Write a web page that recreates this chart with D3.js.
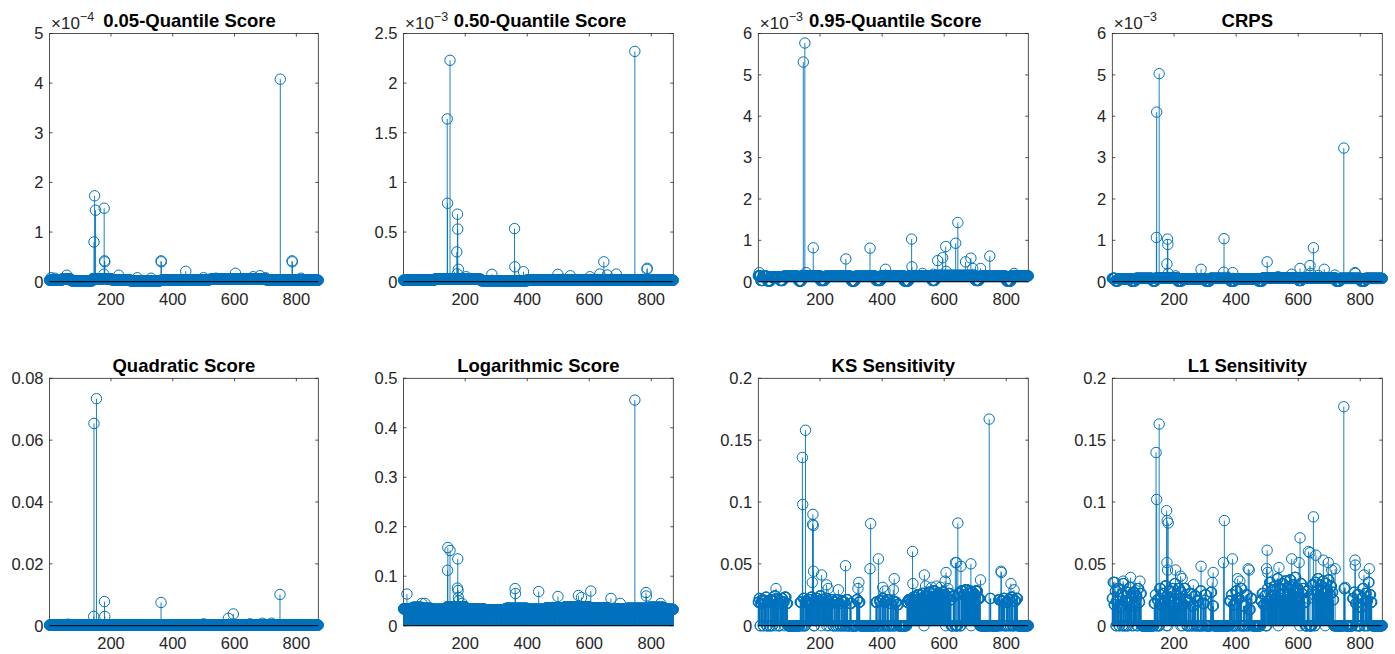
<!DOCTYPE html>
<html><head><meta charset="utf-8">
<script src="https://cdn.jsdelivr.net/npm/d3@7"></script>
<style>
body{margin:0;background:#fff}
svg{display:block}
text{font-family:"Liberation Sans",Arial,Helvetica,sans-serif;fill:#262626}
</style>
</head><body>
<svg id="chart" width="1395" height="654"></svg>
<script>
// ---------------- data ----------------
const N = 871;                       // number of samples (x = 1..N)
const xTickValues = [200, 400, 600, 800];

const titles = ["0.05-Quantile Score","0.50-Quantile Score","0.95-Quantile Score","CRPS",
                "Quadratic Score","Logarithmic Score","KS Sensitivity","L1 Sensitivity"];
const yMaxes = [5e-4, 2.5e-3, 6e-3, 6e-3, 0.08, 0.5, 0.2, 0.2];
const yExponents = [-4, -3, -3, -3, 0, 0, 0, 0];
const yTicks = [
  [0,1e-4,2e-4,3e-4,4e-4,5e-4],
  [0,0.5e-3,1e-3,1.5e-3,2e-3,2.5e-3],
  [0,1e-3,2e-3,3e-3,4e-3,5e-3,6e-3],
  [0,1e-3,2e-3,3e-3,4e-3,5e-3,6e-3],
  [0,0.02,0.04,0.06,0.08],
  [0,0.1,0.2,0.3,0.4,0.5],
  [0,0.05,0.1,0.15,0.2],
  [0,0.05,0.1,0.15,0.2]
];

// run-length segments [fromIndex, toIndex, value] read off the dense base band, and
// individual readings [index, value] of the visible stems
const q05Base = [[1,40,3e-6],[41,70,5e-6],[71,140,2e-6],[141,200,6e-6],[201,260,4e-6],[261,360,2e-6],
  [361,440,3e-6],[441,520,4e-6],[521,600,5e-6],[601,700,6e-6],[701,760,4e-6],[761,871,3e-6]];
const q05Peaks = [[6,0.08e-4],[18,0.07e-4],[57,0.13e-4],[145,0.80e-4],[147,1.73e-4],[150,1.44e-4],[177,0.15e-4],
  [178,1.48e-4],[179,0.42e-4],[180,0.40e-4],[225,0.13e-4],[285,0.08e-4],[330,0.07e-4],[362,0.42e-4],[363,0.40e-4],
  [442,0.21e-4],[500,0.08e-4],[540,0.07e-4],[603,0.17e-4],[660,0.1e-4],[682,0.12e-4],[700,0.08e-4],
  [748,4.08e-4],[786,0.42e-4],[787,0.40e-4],[815,0.07e-4]];

const q50Base = [[1,100,1.5e-5],[101,250,2.5e-5],[251,400,1e-5],[401,600,2e-5],[601,871,1.5e-5]];
const q50Peaks = [[142,1.64e-3],[143,0.79e-3],[151,2.23e-3],[173,0.30e-3],[174,0.08e-3],[175,0.68e-3],[176,0.53e-3],
  [178,0.125e-3],[203,0.05e-3],[286,0.074e-3],[359,0.535e-3],[360,0.15e-3],[388,0.10e-3],[499,0.074e-3],
  [539,0.06e-3],[602,0.05e-3],[634,0.077e-3],[647,0.20e-3],[658,0.067e-3],[687,0.077e-3],[747,2.32e-3],
  [786,0.125e-3],[787,0.135e-3]];

const q95Base = [[1,8,1.4e-4],[9,15,3e-5],[16,30,1.3e-4],[31,40,2e-5],[41,70,1.2e-4],[71,80,3e-5],[81,130,1.3e-4],
  [131,140,2e-5],[141,200,1.4e-4],[201,215,3e-5],[216,300,1.3e-4],[301,312,2e-5],[313,380,1.3e-4],[381,395,3e-5],
  [396,470,1.4e-4],[471,485,2e-5],[486,560,1.4e-4],[561,570,3e-5],[571,700,1.5e-4],[701,712,3e-5],[713,800,1.3e-4],
  [801,815,2e-5],[816,871,1.4e-4]];
const q95Peaks = [[4,0.22e-3],[146,5.31e-3],[151,5.77e-3],[155,0.22e-3],[178,0.82e-3],[283,0.55e-3],[361,0.81e-3],
  [411,0.30e-3],[495,1.03e-3],[496,0.36e-3],[530,0.2e-3],[565,0.18e-3],[579,0.51e-3],[595,0.58e-3],[605,0.85e-3],
  [606,0.25e-3],[637,0.93e-3],[644,1.43e-3],[669,0.48e-3],[686,0.57e-3],[692,0.32e-3],[717,0.32e-3],[747,0.62e-3],
  [825,0.2e-3]];

const crpsBase = [[1,10,8e-5],[11,20,2e-5],[21,60,7e-5],[61,75,2e-5],[76,130,8e-5],[131,140,2e-5],[141,210,9e-5],
  [211,225,2e-5],[226,300,7e-5],[301,315,2e-5],[316,380,8e-5],[381,395,2e-5],[396,470,7e-5],[471,485,2e-5],
  [486,600,9e-5],[601,610,3e-5],[611,720,9e-5],[721,735,2e-5],[736,800,8e-5],[801,815,2e-5],[816,871,8e-5]];
const crpsPeaks = [[143,1.07e-3],[144,4.10e-3],[152,5.03e-3],[177,0.43e-3],[179,1.03e-3],[180,0.90e-3],[181,0.2e-3],
  [205,0.14e-3],[287,0.30e-3],[360,0.23e-3],[361,1.04e-3],[389,0.22e-3],[500,0.48e-3],[535,0.12e-3],[579,0.18e-3],
  [606,0.32e-3],[638,0.39e-3],[640,0.2e-3],[649,0.82e-3],[665,0.15e-3],[684,0.30e-3],[718,0.16e-3],[747,3.23e-3],
  [783,0.22e-3],[784,0.2e-3]];

const quadBase = [[1,871,2e-4]];
const quadPeaks = [[60,0.0005],[144,0.003],[145,0.0654],[153,0.0734],[179,0.0078],[180,0.003],[362,0.0075],
  [500,0.0006],[580,0.0024],[596,0.0038],[650,0.0006],[690,0.0008],[720,0.0008],[747,0.0101]];

const logBase = [[1,30,0.034],[31,60,0.037],[61,90,0.035],[91,140,0.033],[141,200,0.038],[201,260,0.034],
  [261,330,0.032],[331,400,0.035],[401,460,0.033],[461,520,0.036],[521,600,0.038],[601,660,0.036],[661,720,0.034],
  [721,790,0.035],[791,840,0.037],[841,871,0.033]];
const logPeaks = [[12,0.064],[60,0.045],[70,0.045],[143,0.112],[144,0.158],[151,0.152],[175,0.076],[176,0.135],
  [177,0.071],[178,0.057],[179,0.05],[190,0.045],[361,0.075],[362,0.065],[437,0.069],[499,0.059],[565,0.061],
  [575,0.057],[605,0.070],[670,0.055],[700,0.045],[747,0.456],[783,0.067],[784,0.060],[830,0.045]];

const ksBase = [
  [1,3,0.019],[4,6,0.022],[9,12,0.018],[13,16,0.021],[19,24,0.02],[25,27,0.023],[31,36,0.019],[40,44,0.021],
  [47,52,0.02],[53,56,0.024],[58,62,0.021],[63,66,0.018],[70,74,0.02],[75,79,0.022],[80,84,0.019],[86,90,0.023],[91,95,0.018],
  [136,140,0.019],[146,149,0.022],[154,158,0.02],[159,164,0.018],[165,170,0.021],[171,174,0.023],[182,186,0.019],
  [187,192,0.022],[193,198,0.02],[199,203,0.024],[206,210,0.021],[211,216,0.019],[217,220,0.022],[223,228,0.02],
  [230,236,0.018],[237,241,0.021],
  [245,249,0.019],[252,256,0.021],[260,264,0.018],[268,272,0.02],[276,280,0.019],[285,289,0.021],[296,300,0.018],
  [318,322,0.021],[324,328,0.019],
  [380,384,0.019],[392,396,0.02],[400,404,0.022],[408,412,0.019],[416,420,0.021],[426,430,0.018],[434,437,0.02],
  [442,446,0.019],[448,452,0.017],
  [480,484,0.019],[485,490,0.021],[491,497,0.019],[500,506,0.023],[507,513,0.021],[514,520,0.025],[521,527,0.022],
  [528,534,0.026],[537,543,0.024],[544,550,0.021],[551,557,0.027],[558,564,0.023],[565,571,0.028],[572,578,0.024],
  [579,585,0.026],[586,592,0.022],[593,599,0.027],[600,604,0.025],[607,612,0.023],[613,618,0.026],[619,622,0.021],
  [629,634,0.024],[645,650,0.026],[655,660,0.028],[661,667,0.025],[668,674,0.029],[675,681,0.026],[682,685,0.028],
  [688,693,0.027],[694,700,0.025],[701,707,0.028],[708,714,0.022],
  [748,750,0.022],[776,780,0.021],[784,788,0.02],[790,795,0.022],[800,805,0.019],[808,812,0.021],[816,820,0.023],
  [826,830,0.02],[832,836,0.022]];
const ksPeaks = [[58,0.030],[143,0.136],[144,0.098],[153,0.158],[175,0.035],[176,0.082],[177,0.090],[178,0.081],
  [179,0.044],[205,0.041],[221,0.033],[226,0.030],[259,0.029],[282,0.0485],[322,0.030],[325,0.035],[361,0.046],
  [363,0.0825],[388,0.054],[402,0.031],[409,0.028],[436,0.029],[439,0.038],[498,0.060],[499,0.034],[536,0.041],
  [540,0.032],[560,0.031],[575,0.032],[588,0.031],[603,0.036],[606,0.043],[612,0.030],[636,0.051],[640,0.051],
  [644,0.083],[654,0.048],[686,0.050],[717,0.037],[745,0.167],[783,0.044],[784,0.043],[815,0.034],[825,0.029]];

const l1Base = [
  [1,3,0.022],[4,6,0.035],[7,9,0.017],[10,12,0.028],[15,18,0.02],[19,22,0.03],[25,28,0.015],[29,32,0.025],
  [35,38,0.034],[41,44,0.02],[47,50,0.027],[53,56,0.018],[57,61,0.031],[62,65,0.022],[68,72,0.027],[73,76,0.016],
  [77,80,0.024],[83,86,0.03],[87,90,0.019],[91,94,0.026],
  [136,139,0.018],[140,141,0.025],[146,149,0.021],[154,157,0.03],[158,161,0.017],[162,166,0.026],[167,170,0.02],
  [171,174,0.032],[182,185,0.022],[186,189,0.028],[190,193,0.016],[194,197,0.03],[198,201,0.02],[202,204,0.034],
  [206,209,0.025],[210,213,0.018],[214,217,0.03],[218,220,0.022],[223,226,0.027],[228,232,0.017],[233,236,0.03],
  [237,241,0.021],
  [245,248,0.02],[251,255,0.026],[259,263,0.016],[266,270,0.024],[275,279,0.02],[285,288,0.028],[293,297,0.018],
  [300,303,0.025],[318,321,0.027],[323,327,0.016],
  [379,383,0.02],[385,388,0.025],[392,395,0.017],[399,403,0.028],[406,410,0.022],[414,418,0.03],[424,428,0.016],
  [432,436,0.025],[441,445,0.013],[447,451,0.022],
  [480,483,0.02],[484,487,0.026],[488,491,0.017],[492,495,0.024],[500,503,0.03],[504,507,0.02],[508,511,0.035],
  [512,515,0.024],[516,519,0.029],[520,523,0.018],[524,527,0.032],[528,531,0.022],[532,535,0.038],[537,540,0.025],
  [541,544,0.03],[545,548,0.02],[549,552,0.034],[553,556,0.026],[557,560,0.036],[561,564,0.021],[565,568,0.031],
  [569,572,0.025],[573,576,0.037],[577,580,0.022],[581,584,0.033],[585,588,0.027],[589,592,0.039],[593,596,0.023],
  [597,600,0.03],[601,604,0.02],[607,610,0.034],[611,614,0.026],[615,618,0.03],[619,622,0.019],[629,632,0.028],
  [633,634,0.022],[645,648,0.033],[649,652,0.025],[655,658,0.035],[659,662,0.028],[663,666,0.038],[667,670,0.024],
  [671,674,0.033],[675,678,0.029],[679,682,0.036],[683,686,0.026],[688,691,0.034],[692,695,0.028],[696,699,0.037],
  [700,703,0.025],[704,707,0.032],[708,711,0.027],[712,714,0.021],
  [748,750,0.03],[776,779,0.022],[780,782,0.027],[784,787,0.018],[790,794,0.025],[800,803,0.015],[804,807,0.022],
  [808,811,0.03],[816,819,0.026],[820,823,0.02],[826,829,0.035],[830,833,0.025],[834,837,0.019]];
const l1Peaks = [[10,0.035],[36,0.036],[60,0.039],[90,0.036],[142,0.140],[144,0.102],[152,0.163],[176,0.093],
  [177,0.051],[178,0.085],[179,0.045],[181,0.083],[205,0.045],[221,0.040],[226,0.038],[262,0.033],[287,0.048],
  [323,0.035],[326,0.043],[359,0.051],[362,0.085],[388,0.054],[405,0.038],[412,0.036],[439,0.046],[442,0.045],
  [498,0.046],[500,0.061],[502,0.043],[538,0.047],[579,0.054],[603,0.051],[606,0.071],[633,0.060],[638,0.059],
  [649,0.088],[657,0.057],[681,0.053],[697,0.051],[708,0.045],[719,0.046],[747,0.177],[751,0.031],[783,0.053],
  [784,0.049],[812,0.041],[829,0.046]];

const bases = [q05Base, q50Base, q95Base, crpsBase, quadBase, logBase, ksBase, l1Base];
const peaks = [q05Peaks, q50Peaks, q95Peaks, crpsPeaks, quadPeaks, logPeaks, ksPeaks, l1Peaks];

// ---------------- layout ----------------
const colLeft = [49.5, 403.5, 758.3, 1112.3];
const colWidth = [268.8, 269.8, 270, 270];
const rowTop = [33.5, 378.3];
const rowBottom = [281.7, 625.7];
const titleCenterTop = [189.5, 540, 895.3, 1247.3];
const stemColor = "#0072BD";
const axisColor = "#262626";

const svg = d3.select("#chart");

function buildSeries(base, pk) {
  const v = new Array(N).fill(0);
  base.forEach(([a, b, val]) => { for (let i = a; i <= b; i++) v[i - 1] = val; });
  pk.forEach(([i, val]) => { v[i - 1] = val; });
  return v.map((y, i) => ({ x: i + 1, y }));
}

function fmtTick(v, e) {
  const s = v / Math.pow(10, e);
  return String(+s.toFixed(6));
}

for (let p = 0; p < 8; p++) {
  const col = p % 4, row = Math.floor(p / 4);
  const L = colLeft[col], R = L + colWidth[col], T = rowTop[row], B = rowBottom[row];
  const x = d3.scaleLinear().domain([1, N]).range([L, R]);
  const y = d3.scaleLinear().domain([0, yMaxes[p]]).range([B, T]);
  const g = svg.append("g");
  const data = buildSeries(bases[p], peaks[p]);

  // box
  g.append("rect").attr("x", L).attr("y", T).attr("width", R - L).attr("height", B - T)
    .attr("fill", "none").attr("stroke", axisColor).attr("stroke-width", 0.8);

  // x ticks (bottom & top, inward) and labels
  xTickValues.forEach(t => {
    const xx = x(t);
    g.append("line").attr("x1", xx).attr("x2", xx).attr("y1", B).attr("y2", B - 3)
      .attr("stroke", axisColor).attr("stroke-width", 0.8);
    g.append("line").attr("x1", xx).attr("x2", xx).attr("y1", T).attr("y2", T + 3)
      .attr("stroke", axisColor).attr("stroke-width", 0.8);
    g.append("text").attr("x", xx).attr("y", B + 23.5).attr("text-anchor", "middle")
      .attr("font-size", 16.5).text(t);
  });

  // y ticks and labels
  const e = yExponents[p];
  yTicks[p].forEach(t => {
    const yy = y(t);
    g.append("line").attr("x1", L).attr("x2", L + 3).attr("y1", yy).attr("y2", yy)
      .attr("stroke", axisColor).attr("stroke-width", 0.8);
    g.append("line").attr("x1", R).attr("x2", R - 3).attr("y1", yy).attr("y2", yy)
      .attr("stroke", axisColor).attr("stroke-width", 0.8);
    g.append("text").attr("x", L - 6).attr("y", yy + 5.8).attr("text-anchor", "end")
      .attr("font-size", 16.5).text(fmtTick(t, e));
  });

  // exponent label
  if (e !== 0) {
    const t = g.append("text").attr("x", L + 1.5).attr("y", T - 5).attr("font-size", 17);
    t.append("tspan").text("×10");
    t.append("tspan").attr("dy", -7.5).attr("font-size", 12.5).text("\u2212" + Math.abs(e));
  }

  // title
  const tx = row === 0 ? titleCenterTop[col] : (L + R) / 2;
  g.append("text").attr("x", tx).attr("y", row === 0 ? 27 : 372).attr("text-anchor", "middle")
    .attr("font-size", 18.5).attr("font-weight", "bold").style("fill", "#000").text(titles[p]);

  // stems
  g.append("g").selectAll("line").data(data).join("line")
    .attr("x1", d => x(d.x)).attr("x2", d => x(d.x))
    .attr("y1", y(0)).attr("y2", d => y(d.y))
    .attr("stroke", stemColor).attr("stroke-width", 0.9);

  // markers
  g.append("g").selectAll("circle").data(data).join("circle")
    .attr("cx", d => x(d.x)).attr("cy", d => y(d.y)).attr("r", 5.2)
    .attr("fill", "none").attr("stroke", stemColor).attr("stroke-width", 1);

  // baseline
  g.append("line").attr("x1", L).attr("x2", R).attr("y1", y(0)).attr("y2", y(0))
    .attr("stroke", "#000").attr("stroke-width", 1);
}
</script>
</body></html>
